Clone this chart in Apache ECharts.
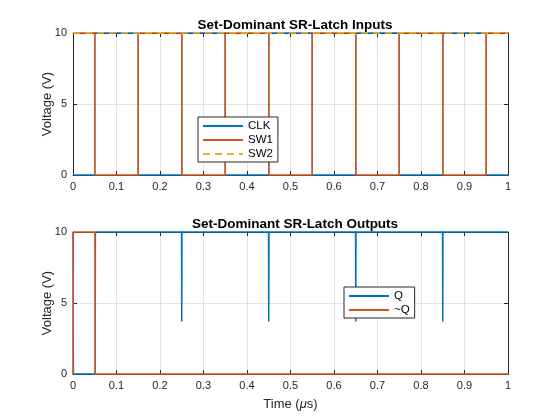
<!DOCTYPE html>
<html>
<head>
<meta charset="utf-8">
<script src="https://cdn.jsdelivr.net/npm/echarts@6/dist/echarts.min.js"></script>
<style>html,body{margin:0;padding:0;background:#fff;}#c{width:560px;height:420px;}</style>
</head>
<body>
<div id="c"></div>
<script>
// ---- data ----
var titles = ['Set-Dominant SR-Latch Inputs', 'Set-Dominant SR-Latch Outputs'];
var xTickLabels = ['0','0.1','0.2','0.3','0.4','0.5','0.6','0.7','0.8','0.9','1'];
var yTickLabels = ['0','5','10'];
// step series: [time, value] held until next time
var clkData = [[0,0],[0.05,10],[0.15,0],[0.25,10],[0.35,0],[0.45,10],[0.55,0],[0.65,10],[0.75,0],[0.85,10],[0.95,0],[1,0]];
var sw1Data = [[0,10],[0.05,0],[0.15,10],[0.25,0],[0.35,10],[0.45,0],[0.55,10],[0.65,0],[0.75,10],[0.85,0],[0.95,10],[1,10]];
var sw2Data = [[0,10],[1,10]];
var qData = [[0,10],[0.001,0],[0.051,0],[0.0515,10],
  [0.2495,10],[0.25,3.7],[0.2505,10],
  [0.4495,10],[0.45,3.7],[0.4505,10],
  [0.6495,10],[0.65,3.7],[0.6505,10],
  [0.8495,10],[0.85,3.7],[0.8505,10],[1,10]];
var nqData = [[0,0],[0.0008,10],[0.0505,10],[0.051,0],[1,0]];

// ---- chart ----
var FONT = 'Liberation Sans, Arial, sans-serif';
var AX = '#262626';
var C1 = '#0072BD', C2 = '#D95319', C3 = '#EDB120';
var chart = echarts.init(document.getElementById('c'));

function xTick(v){ var i = Math.round(v*10); return xTickLabels[i] !== undefined ? xTickLabels[i] : ''; }
function yTick(v){ var i = Math.round(v/5); return yTickLabels[i] !== undefined ? yTickLabels[i] : ''; }

var grids = [
  {left:73, right:52, top:33, height:142},
  {left:73, right:52, top:232, height:142}
];
var xAxes = [], yAxes = [];
for (var g=0; g<2; g++){
  xAxes.push({type:'value', gridIndex:g, min:0, max:1, interval:0.1, position:'bottom',
    name: g===1 ? 'Time ({i|\u03bc}s)' : '', nameLocation:'middle', nameGap:24, nameMoveOverlap:false,
    nameTextStyle:{color:AX, fontSize:13, fontFamily:FONT, rich:{i:{fontStyle:'italic', fontSize:13, fontFamily:FONT, color:AX}}},
    axisLine:{show:true, lineStyle:{color:AX, width:1}},
    axisTick:{show:true, inside:true, length:4, lineStyle:{color:AX}},
    axisLabel:{color:AX, fontSize:11, fontFamily:FONT, margin:6, formatter:xTick},
    splitLine:{show:true, lineStyle:{color:'#e3e3e3', width:1}}});
  xAxes.push({type:'value', gridIndex:g, min:0, max:1, interval:0.1, position:'top',
    axisLine:{show:true, onZero:false, lineStyle:{color:AX, width:1}},
    axisTick:{show:true, inside:true, length:4, lineStyle:{color:AX}},
    axisLabel:{show:false}, splitLine:{show:false}});
  yAxes.push({type:'value', gridIndex:g, min:0, max:10, interval:5, position:'left',
    name:'Voltage (V)', nameLocation:'middle', nameGap:19, nameMoveOverlap:false,
    nameTextStyle:{color:AX, fontSize:13, fontFamily:FONT},
    axisLine:{show:true, lineStyle:{color:AX, width:1}},
    axisTick:{show:true, inside:true, length:4, lineStyle:{color:AX}},
    axisLabel:{color:AX, fontSize:11, fontFamily:FONT, margin:6, formatter:yTick},
    splitLine:{show:true, lineStyle:{color:'#e3e3e3', width:1}}});
  yAxes.push({type:'value', gridIndex:g, min:0, max:10, interval:5, position:'right',
    axisLine:{show:true, onZero:false, lineStyle:{color:AX, width:1}},
    axisTick:{show:true, inside:true, length:4, lineStyle:{color:AX}},
    axisLabel:{show:false}, splitLine:{show:false}});
}

function ser(name, data, color, xi, yi, step, dashed){
  return {name:name, type:'line', data:data, xAxisIndex:xi, yAxisIndex:yi,
    step: step ? 'end' : false, showSymbol:false, symbol:'none', clip:false, animation:false,
    lineStyle:{color:color, width:1.5, type: dashed ? [7,5] : 'solid'},
    itemStyle:{color:color}};
}

function mkLegend(left, top, names){
  return {show:true, orient:'vertical', left:left, top:top, data:names,
    backgroundColor:'#fff', borderColor:AX, borderWidth:1, borderRadius:0,
    itemWidth:40, itemHeight:10, itemGap:2, padding:[3,5,2,4],
    itemStyle:{opacity:0},
    textStyle:{color:'#000', fontSize:11.5, fontFamily:FONT}, selectedMode:false};
}

chart.setOption({
  animation:false,
  backgroundColor:'#fff',
  title:[
    {text:titles[0], left:290, top:13, textAlign:'center', textStyle:{fontSize:13.5, fontWeight:'bold', color:'#000', fontFamily:FONT}},
    {text:titles[1], left:290, top:212, textAlign:'center', textStyle:{fontSize:13.5, fontWeight:'bold', color:'#000', fontFamily:FONT}}
  ],
  legend:[ mkLegend(198, 117, ['CLK','SW1','SW2']), mkLegend(344, 287, ['Q','~Q']) ],
  grid:grids,
  xAxis:xAxes,
  yAxis:yAxes,
  series:[
    ser('CLK', clkData, C1, 0, 0, true, false),
    ser('SW1', sw1Data, C2, 0, 0, true, false),
    ser('SW2', sw2Data, C3, 0, 0, false, true),
    ser('Q', qData, C1, 2, 2, false, false),
    ser('~Q', nqData, C2, 2, 2, false, false)
  ]
});
</script>
</body>
</html>
